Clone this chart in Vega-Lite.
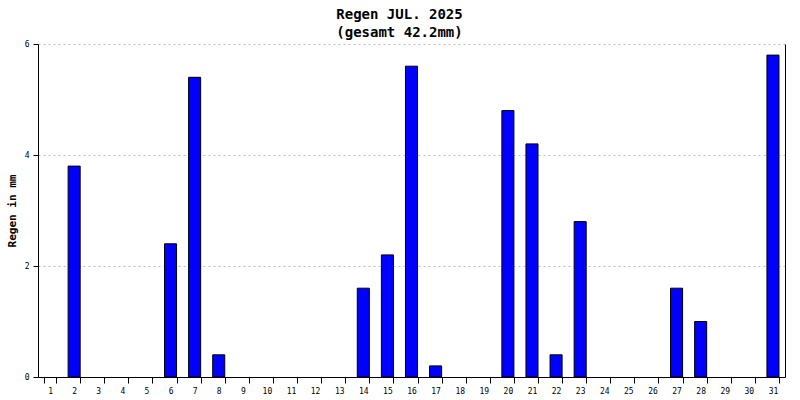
{
  "$schema": "https://vega.github.io/schema/vega-lite/v6.json",
  "autosize": {"type": "none"},
  "width": 747,
  "height": 333,
  "padding": {"left": 38, "top": 44, "right": 15, "bottom": 23},
  "background": "white",
  "title": {
    "text": ["Regen JUL. 2025", "(gesamt 42.2mm)"],
    "font": "DejaVu Sans Mono",
    "fontSize": 14,
    "fontWeight": "bold",
    "color": "black",
    "anchor": "middle",
    "dx": -12,
    "offset": 0,
    "lineHeight": 18
  },
  "config": {
    "view": {"stroke": null},
    "axis": {
      "labelFont": "DejaVu Sans Mono",
      "titleFont": "DejaVu Sans Mono",
      "labelColor": "black",
      "titleColor": "black",
      "domainColor": "black",
      "tickColor": "black",
      "domainWidth": 1,
      "tickWidth": 1
    }
  },
  "data": {
    "values": [
      {"day": "1", "rain": 0}, {"day": "2", "rain": 3.8}, {"day": "3", "rain": 0},
      {"day": "4", "rain": 0}, {"day": "5", "rain": 0}, {"day": "6", "rain": 2.4},
      {"day": "7", "rain": 5.4}, {"day": "8", "rain": 0.4}, {"day": "9", "rain": 0},
      {"day": "10", "rain": 0}, {"day": "11", "rain": 0}, {"day": "12", "rain": 0},
      {"day": "13", "rain": 0}, {"day": "14", "rain": 1.6}, {"day": "15", "rain": 2.2},
      {"day": "16", "rain": 5.6}, {"day": "17", "rain": 0.2}, {"day": "18", "rain": 0},
      {"day": "19", "rain": 0}, {"day": "20", "rain": 4.8}, {"day": "21", "rain": 4.2},
      {"day": "22", "rain": 0.4}, {"day": "23", "rain": 2.8}, {"day": "24", "rain": 0},
      {"day": "25", "rain": 0}, {"day": "26", "rain": 0}, {"day": "27", "rain": 1.6},
      {"day": "28", "rain": 1.0}, {"day": "29", "rain": 0}, {"day": "30", "rain": 0},
      {"day": "31", "rain": 5.8}
    ]
  },
  "layer": [
    {
      "transform": [{"filter": "datum.rain > 0"}],
      "mark": {"type": "bar", "fill": "#0000ff", "stroke": "black", "strokeWidth": 1},
      "encoding": {
        "x": {
          "field": "day",
          "type": "ordinal",
          "sort": null,
          "scale": {
            "domain": ["1","2","3","4","5","6","7","8","9","10","11","12","13","14","15","16","17","18","19","20","21","22","23","24","25","26","27","28","29","30","31"],
            "paddingInner": 0.5,
            "paddingOuter": 0.25
          },
          "axis": {
            "title": null,
            "labelAngle": 0,
            "labelFontSize": 8,
            "labelPadding": 4,
            "tickBand": "extent",
            "tickSize": 6,
            "grid": false
          }
        },
        "y": {
          "field": "rain",
          "type": "quantitative",
          "scale": {"domain": [0, 6], "nice": false, "zero": true},
          "axis": {
            "title": "Regen in mm",
            "titleFontSize": 11,
            "titleFontWeight": "bold",
            "titlePadding": 7,
            "values": [0, 2, 4, 6],
            "labelFontSize": 8,
            "labelPadding": 4,
            "tickSize": 5,
            "grid": true,
            "gridColor": "#bbbbbb",
            "gridDash": [2, 3],
            "gridWidth": 1
          }
        }
      }
    },
    {
      "mark": {"type": "bar", "opacity": 0},
      "encoding": {
        "x": {"field": "day", "type": "ordinal", "sort": null},
        "y": {
          "field": "rain",
          "type": "quantitative",
          "axis": {"orient": "right", "title": null, "labels": false, "ticks": false, "grid": false, "domainColor": "black"}
        }
      }
    }
  ],
  "resolve": {"axis": {"y": "independent"}}
}
